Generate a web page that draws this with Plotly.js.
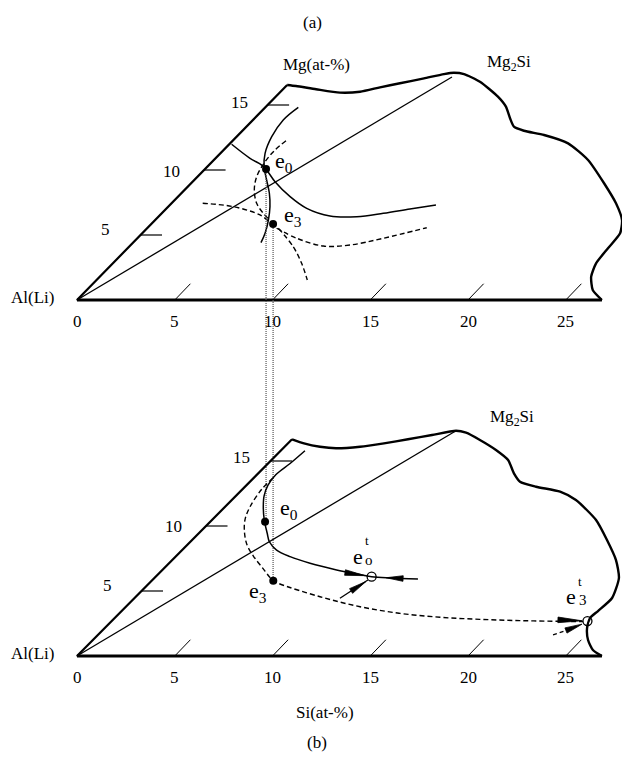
<!DOCTYPE html>
<html><head><meta charset="utf-8">
<script src="https://cdn.plot.ly/plotly-3.0.1.min.js"></script>
<style>html,body{margin:0;padding:0;background:#fff}</style>
</head><body><div id="chart" style="width:622px;height:760px"></div>
<script>
// ---------- data (Si at-% horizontally, Mg at-% height) ----------
const siTicks = [0, 5, 10, 15, 20, 25];
const mgTicks = [5, 10, 15];
const hatchSi = [5, 10, 15, 20, 25];

// panel (a)
const apexA = [10.75, 16.54];
const baseEndA = 26.85;
const mg2siA = [19.18, 17.15];
const boundaryA_si = [10.75,11.20,12.23,13.45,14.48,15.50,16.52,17.75,18.77,19.28,19.80,20.61,21.53,21.94,22.15,22.35,22.86,23.89,25.12,26.14,26.96,27.57,27.88,27.78,27.16,26.55,26.30,26.38,26.85];
const boundaryA_mg = [16.54,16.46,16.21,15.95,16.02,16.36,16.67,17.05,17.38,17.48,17.38,16.79,15.64,14.87,13.98,13.33,13.02,12.69,12.05,10.77,8.98,7.44,6.15,5.13,3.98,2.82,1.79,0.77,0];
const solid1A_si = [11.32,10.55,9.96,9.62,9.57,9.70,9.84,9.87,9.79,9.62,9.41];
const solid1A_mg = [14.82,13.85,12.56,11.28,10.25,9.23,8.21,7.18,6.15,5.13,4.41];
const solid2A_si = [7.91,8.85,9.45,9.70,10.13,10.90,11.75,12.94,14.31,15.67,17.03,18.36];
const solid2A_mg = [11.98,10.90,10.38,10.0,9.10,7.95,7.05,6.46,6.41,6.67,7.0,7.31];
const dash1A_si = [10.69,10.13,9.62,9.19,9.07,9.19,9.53,9.87];
const dash1A_mg = [12.25,11.54,10.64,9.48,8.46,7.44,6.67,6.15];
const dash2A_si = [6.43,8.0,9.36,9.96];
const dash2A_mg = [7.44,7.18,6.54,5.85];
const dash3A_si = [10.21,11.24,12.60,13.96,15.67,17.89];
const dash3A_mg = [5.52,4.75,4.15,4.23,4.75,5.56];
const dash4A_si = [10.30,11.06,11.49,11.78];
const dash4A_mg = [5.52,4.10,2.82,1.54];
const e0A = [9.67, 10.08];
const e3A = [10.03, 5.85];

// panel (b)
const apexB = [11.0, 16.67];
const baseEndB = 26.85;
const mg2siB = [19.39, 17.33];
const boundaryB_si = [11.0,11.61,12.43,13.25,14.48,15.70,16.93,18.16,19.39,19.90,20.61,21.43,22.05,22.35,22.66,23.48,24.71,25.52,26.55,27.11,27.57,27.72,27.37,26.65,26.24,26.09,26.14,26.39,26.85];
const boundaryB_mg = [16.67,16.36,16.10,15.98,16.10,16.36,16.67,17.0,17.33,17.18,16.62,15.85,15.08,14.05,13.41,13.02,12.64,12.0,10.46,8.92,7.38,6.0,4.46,3.46,2.92,2.15,1.23,0.46,0];
const solidB_si = [11.66,10.90,10.18,9.77,9.57,9.53,9.58,9.73,9.84,10.21,10.90,11.92,13.28,14.31,15.07,16.01,17.44];
const solidB_mg = [15.79,14.81,13.96,13.15,12.31,11.38,10.46,9.44,8.79,8.15,7.64,7.13,6.62,6.31,6.10,6.0,5.92];
const dashB_si = [10.03,9.46,8.85,8.59,8.57,8.70,9.02,9.45,10.04,10.38,12.43,14.48,16.52,18.57,20.61,22.66,24.71,25.88];
const dashB_mg = [13.69,12.85,11.48,10.46,9.46,8.54,7.69,6.85,5.79,5.54,4.56,3.79,3.28,2.98,2.82,2.72,2.67,2.65];
const e0B = [9.62, 10.33];
const e3B = [10.04, 5.79];
const e0tB = [15.07, 6.10];
const e3tB = [26.11, 2.69];
// arrows: [tip, base]
const arrowsB = [
  [[14.73, 6.18], [13.71, 6.42]],
  [[15.81, 6.02], [16.68, 5.96]],
  [[14.78, 5.73], [14.02, 5.00]],
  [[25.83, 2.71], [24.60, 2.78]],
  [[25.83, 2.45], [25.01, 1.96]]
];
const feedLineB_si = [13.45, 14.88];
const feedLineB_mg = [4.44, 5.85];
const feedDashB_si = [24.35, 25.01];
const feedDashB_mg = [1.62, 1.96];

// ---------- layout constants ----------
const PX_SI = 19.55, PX_MG = 13;       // pixels per unit
const X0PX = 77, BASE_A_PX = 300, BASE_B_PX = 656, W = 622, H = 760;
const SHIFT = (BASE_B_PX - BASE_A_PX) / PX_MG;

const black = '#000';
const FONT = 'Liberation Serif, Times New Roman, serif';
const traces = [];
function line(xs, ys, ax, opt) {
  traces.push(Object.assign({type:'scatter', mode:'lines', x:xs, y:ys, yaxis:ax,
    hoverinfo:'skip', line:{color:black, width:1.5}}, opt||{}));
}
function segs(list) { // list of [[x0,y0],[x1,y1]]
  const xs=[], ys=[];
  list.forEach(s=>{xs.push(s[0][0], s[1][0], null); ys.push(s[0][1], s[1][1], null);});
  return [xs, ys];
}
function wedge(tip, base, halfPx, ax) {
  const dx=(tip[0]-base[0])*PX_SI, dy=(tip[1]-base[1])*PX_MG;
  const L=Math.hypot(dx,dy);
  const px=-dy/L*halfPx/PX_SI, py=dx/L*halfPx/PX_MG;
  traces.push({type:'scatter', mode:'lines', yaxis:ax, fill:'toself', fillcolor:black,
    line:{color:black, width:0.8}, hoverinfo:'skip',
    x:[base[0]+px, tip[0], base[0]-px, base[0]+px],
    y:[base[1]+py, tip[1], base[1]-py, base[1]+py]});
}

function panel(ax, apex, baseEnd, mg2si, bx, by) {
  line([apex[0], 0, baseEnd], [apex[1], 0, 0], ax, {line:{color:black, width:2.2}});
  line([0, baseEnd], [0, 0], ax, {line:{color:black, width:3}});
  line([0, mg2si[0]], [0, mg2si[1]], ax, {line:{color:black, width:1.3}});
  line(bx, by, ax, {line:{color:black, width:2.4, shape:'spline', smoothing:0.6}});
  // left-edge ticks
  const tk = segs(mgTicks.map(m => { const s = apex[0]*m/apex[1]; return [[s, m],[s+1.1, m]]; }));
  line(tk[0], tk[1], ax, {line:{color:black, width:1.2}});
  // base hatches
  const hs = segs(hatchSi.map(s => [[s, 0],[s+0.8, 1.25]]));
  line(hs[0], hs[1], ax, {line:{color:black, width:1}});
}

// panel a
panel('y', apexA, baseEndA, mg2siA, boundaryA_si, boundaryA_mg);
line(solid1A_si, solid1A_mg, 'y', {line:{color:black, width:1.5, shape:'spline'}});
line(solid2A_si, solid2A_mg, 'y', {line:{color:black, width:1.5, shape:'spline'}});
[[dash1A_si,dash1A_mg],[dash2A_si,dash2A_mg],[dash3A_si,dash3A_mg],[dash4A_si,dash4A_mg]].forEach(d =>
  line(d[0], d[1], 'y', {line:{color:black, width:1.4, dash:'5px,3px', shape:'spline'}}));

// panel b
panel('y2', apexB, baseEndB, mg2siB, boundaryB_si, boundaryB_mg);
line(solidB_si, solidB_mg, 'y2', {line:{color:black, width:1.5, shape:'spline'}});
line(dashB_si, dashB_mg, 'y2', {line:{color:black, width:1.4, dash:'5px,3px', shape:'spline'}});
line(feedLineB_si, feedLineB_mg, 'y2', {line:{color:black, width:1.3}});
line(feedDashB_si, feedDashB_mg, 'y2', {line:{color:black, width:1.3, dash:'4px,3px'}});
arrowsB.forEach(a => wedge(a[0], a[1], 2.8, 'y2'));

// projection lines between panels (drawn on panel a axis)
line([e0A[0], e0A[0]], [e0A[1], e0B[1] - SHIFT], 'y', {line:{color:'#555', width:1.2, dash:'1px,1px'}});
line([e3A[0], e3A[0]], [e3A[1], e3B[1] - SHIFT], 'y', {line:{color:'#555', width:1.2, dash:'1px,1px'}});

// points
traces.push({type:'scatter', mode:'markers', x:[e0A[0], e3A[0]], y:[e0A[1], e3A[1]], yaxis:'y',
  marker:{color:black, size:8}, hoverinfo:'skip'});
traces.push({type:'scatter', mode:'markers', x:[e0B[0], e3B[0]], y:[e0B[1], e3B[1]], yaxis:'y2',
  marker:{color:black, size:8}, hoverinfo:'skip'});
traces.push({type:'scatter', mode:'markers', x:[e0tB[0], e3tB[0]], y:[e0tB[1], e3tB[1]], yaxis:'y2',
  marker:{color:'rgba(0,0,0,0)', size:9, line:{color:black, width:1.3}}, hoverinfo:'skip'});

// ---------- annotations ----------
const ann = [];
function txt(x, y, yref, text, size, opt) {
  ann.push(Object.assign({x:x, y:y, xref:'x', yref:yref, text:text, showarrow:false,
    font:{family:FONT, size:size, color:black}, xanchor:'center', yanchor:'middle'}, opt||{}));
}
['y','y2'].forEach(yr => {
  siTicks.forEach(s => txt(s, -1.69, yr, String(s), 17));
  txt(-2.3, 0.2, yr, 'Al(Li)', 17);
});
[[1.79,5.4],[5.37,9.9],[8.85,15.2]].forEach((p,i) => txt(p[0], p[1], 'y', String(mgTicks[i]), 17, {xanchor:'right'}));
[[1.89,5.41],[5.47,10.0],[8.95,15.3]].forEach((p,i) => txt(p[0], p[1], 'y2', String(mgTicks[i]), 17, {xanchor:'right'}));
txt(12.07, 21.38, 'y', '(a)', 17);
txt(12.23, 18.15, 'y', 'Mg(at-%)', 17);
txt(22.1, 18.23, 'y', 'Mg<sub>2</sub>Si', 17);
txt(22.25, 18.31, 'y2', 'Mg<sub>2</sub>Si', 17);
txt(12.69, -4.31, 'y2', 'Si(at-%)', 17);
txt(12.28, -6.69, 'y2', '(b)', 17);
txt(10.03, 10.6, 'y', 'e<sub>0</sub>', 22, {xanchor:'left'});
txt(10.49, 6.5, 'y', 'e<sub>3</sub>', 22, {xanchor:'left'});
txt(10.28, 11.3, 'y2', 'e<sub>0</sub>', 22, {xanchor:'left'});
txt(8.70, 4.9, 'y2', 'e<sub>3</sub>', 22, {xanchor:'left'});
txt(14.37, 7.69, 'y2', 'e', 22);
txt(14.83, 8.85, 'y2', 't', 13);
txt(14.95, 7.38, 'y2', 'o', 15);
txt(25.29, 4.58, 'y2', 'e', 22);
txt(25.73, 5.70, 'y2', 't', 13);
txt(25.87, 4.31, 'y2', '3', 15);

const layout = {
  width:W, height:H, margin:{l:0, r:0, t:0, b:0}, showlegend:false,
  paper_bgcolor:'#fff', plot_bgcolor:'#fff',
  xaxis:{range:[-X0PX/PX_SI, (W-X0PX)/PX_SI], visible:false, fixedrange:true},
  yaxis:{range:[(BASE_A_PX-H)/PX_MG, BASE_A_PX/PX_MG], visible:false, fixedrange:true},
  yaxis2:{range:[(BASE_B_PX-H)/PX_MG, BASE_B_PX/PX_MG], visible:false, overlaying:'y', fixedrange:true},
  annotations:ann
};
Plotly.newPlot('chart', traces, layout, {staticPlot:true, displayModeBar:false});
</script></body></html>
